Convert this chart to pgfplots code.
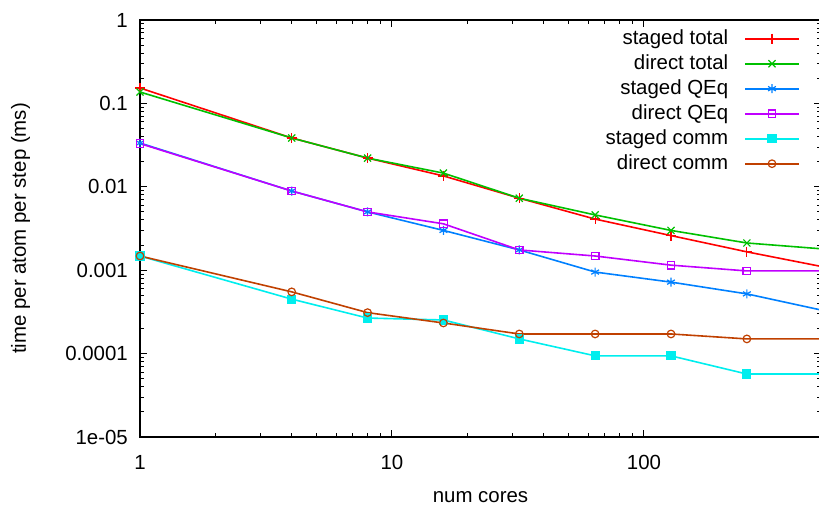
\documentclass[border=0pt]{standalone}
\usepackage{pgfplots}
\pgfplotsset{compat=1.18}
\usepackage{fontspec}
\setmainfont{Liberation Sans}
\definecolor{gpred}{HTML}{FF0000}
\definecolor{gpgreen}{HTML}{00C000}
\definecolor{gpblue}{HTML}{0080FF}
\definecolor{gppurple}{HTML}{C000FF}
\definecolor{gpcyan}{HTML}{00EEEE}
\definecolor{gpbrown}{HTML}{C04000}
\begin{document}
\begin{tikzpicture}
\path[use as bounding box] (-140bp,-71bp) rectangle (679bp,437bp);
\begin{loglogaxis}[
  scale only axis,
  width=681bp, height=417bp,
  anchor=south west, at={(0,0)},
  xmin=1, xmax=504,
  ymin=1e-5, ymax=1,
  xtick={1,10,100}, xticklabels={1,10,100},
  ytick={1e-5,1e-4,1e-3,1e-2,1e-1,1},
  yticklabels={1e-05,0.0001,0.001,0.01,0.1,1},
  /pgf/number format/assume math mode=true,
  font=\fontsize{20.5}{24}\selectfont,
  tick label style={font=\fontsize{20.5}{24}\selectfont, inner sep=0pt},
  axis line style={line width=1.5bp},
  major tick length=7bp, minor tick length=4bp,
  every tick/.style={black, line width=1bp},
  tick align=inside,
  xtick pos=both, ytick pos=both,
  xlabel={num cores},
  ylabel={time per atom per step (ms)},
  xlabel style={at={(axis description cs:0.5,0)}, anchor=base, yshift=-65bp, inner sep=0pt},
  ylabel style={at={(axis description cs:0,0.5)}, anchor=base, yshift=114bp, inner sep=0pt},
  xticklabel style={anchor=north, yshift=-18bp},
  yticklabel style={anchor=east, xshift=-12bp},
  legend style={draw=none, fill=none, at={(axis description cs:1,1)}, anchor=north east,
    xshift=-21bp, yshift=-9bp, inner sep=0pt, row sep=6bp, column sep=16bp,
    nodes={inner sep=0pt, text height=15bp, text depth=4bp},
    font=\fontsize{20.5}{24}\selectfont},
  legend cell align=right,
  legend plot pos=right,
  legend image code/.code={\draw[mark repeat=2,mark phase=2,#1] plot coordinates {(0bp,0bp) (27bp,0bp) (54bp,0bp)};},
  every axis plot/.append style={line width=1.6bp},
]
\addplot[color=gpred, mark=+, mark size=5bp, mark options={line width=1.2bp}] coordinates {
(1,0.153) (4,0.0385) (8,0.0221) (16,0.0135) (32,0.0073) (64,0.0041) (128,0.0026) (256,0.00166) (512,0.0011)};
\addlegendentry{staged total}
\addplot[color=gpgreen, mark=x, mark size=5bp, mark options={line width=1.2bp}] coordinates {
(1,0.137) (4,0.0385) (8,0.0221) (16,0.0146) (32,0.0073) (64,0.0046) (128,0.0030) (256,0.00212) (512,0.0018)};
\addlegendentry{direct total}
\addplot[color=gpblue, mark=asterisk, mark size=4.5bp, mark options={line width=1.2bp}] coordinates {
(1,0.0335) (4,0.0089) (8,0.0050) (16,0.0030) (32,0.00175) (64,0.00095) (128,0.00072) (256,0.00052) (512,0.00033)};
\addlegendentry{staged QEq}
\addplot[color=gppurple, mark=square, mark size=3.8bp, mark options={line width=1.2bp}] coordinates {
(1,0.033) (4,0.0089) (8,0.0050) (16,0.0036) (32,0.00175) (64,0.00148) (128,0.00115) (256,0.00098) (512,0.00098)};
\addlegendentry{direct QEq}
\addplot[color=gpcyan, mark=square*, mark size=3.8bp] coordinates {
(1,0.00148) (4,0.00045) (8,0.000267) (16,0.000253) (32,0.00015) (64,0.000094) (128,0.000094) (256,0.0000569) (512,0.0000569)};
\addlegendentry{staged comm}
\addplot[color=gpbrown, mark=o, mark size=3.8bp, mark options={line width=1.2bp}] coordinates {
(1,0.00148) (4,0.00055) (8,0.00031) (16,0.000233) (32,0.000172) (64,0.000172) (128,0.000172) (256,0.00015) (512,0.00015)};
\addlegendentry{direct comm}
\end{loglogaxis}
\end{tikzpicture}
\end{document}
